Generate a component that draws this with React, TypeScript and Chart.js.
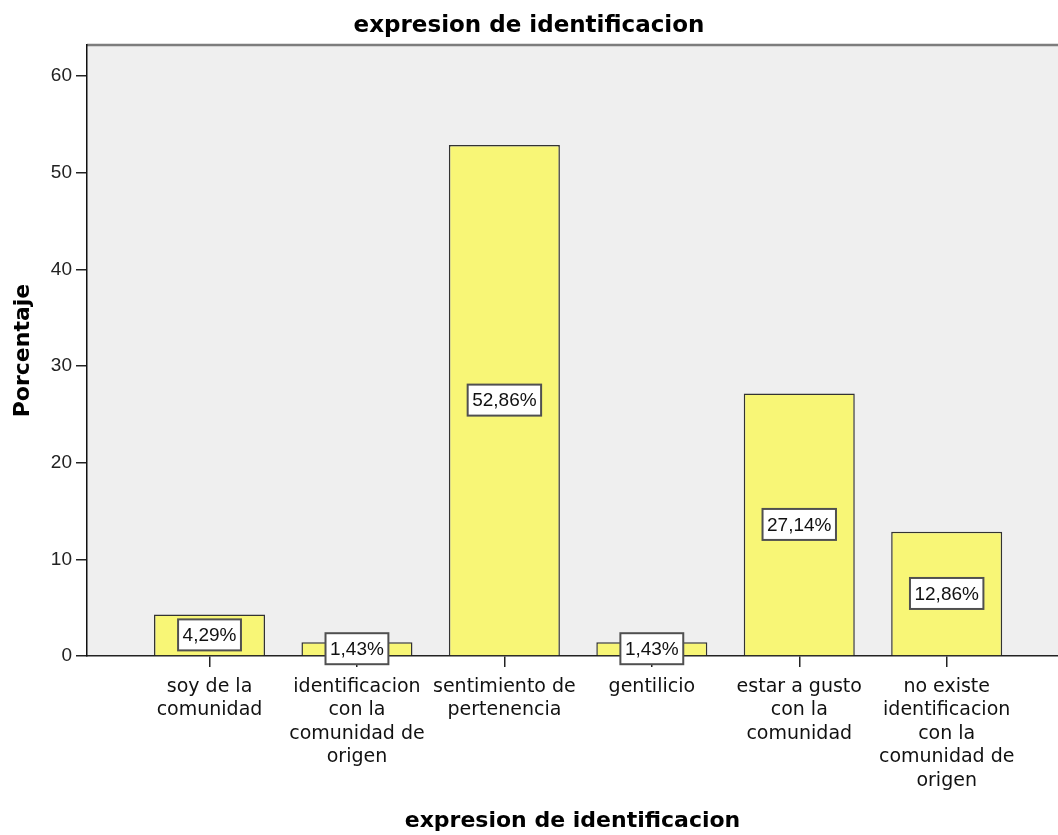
import React, { useEffect, useRef } from 'react';
import { Chart, registerables } from 'chart.js';

Chart.register(...registerables);

const chartTitle = 'expresion de identificacion';
const xAxisTitle = 'expresion de identificacion';
const yAxisTitle = 'Porcentaje';

const categories: string[][] = [
  ['soy de la', 'comunidad'],
  ['identificacion', 'con la', 'comunidad de', 'origen'],
  ['sentimiento de', 'pertenencia'],
  ['gentilicio'],
  ['estar a gusto', 'con la', 'comunidad'],
  ['no existe', 'identificacion', 'con la', 'comunidad de', 'origen'],
];
const percentages = [4.29, 1.43, 52.86, 1.43, 27.14, 12.86];
const yTickValues = [0, 10, 20, 30, 40, 50, 60];

const W = 1058;
const H = 835;

const plotBackground = {
  id: 'plotBackground',
  beforeDraw(chart: any) {
    const { ctx, chartArea } = chart;
    ctx.save();
    ctx.fillStyle = '#efefef';
    ctx.fillRect(chartArea.left, chartArea.top, chartArea.right - chartArea.left, chartArea.bottom - chartArea.top);
    ctx.strokeStyle = '#7d7d7d';
    ctx.lineWidth = 2.5;
    ctx.beginPath();
    ctx.moveTo(chartArea.left, chartArea.top);
    ctx.lineTo(chartArea.right, chartArea.top);
    ctx.stroke();
    ctx.restore();
  },
};

const valueLabels = {
  id: 'valueLabels',
  afterDatasetsDraw(chart: any) {
    const meta = chart.getDatasetMeta(0);
    const ctx = chart.ctx;
    ctx.save();
    ctx.font = '19px "Liberation Sans", Arial, sans-serif';
    ctx.textAlign = 'center';
    ctx.textBaseline = 'middle';
    meta.data.forEach((bar: any, i: number) => {
      const { x, y, base } = bar.getProps(['x', 'y', 'base'], true);
      const cy = (y + base) / 2;
      const text = percentages[i].toFixed(2).replace('.', ',') + '%';
      const w = ctx.measureText(text).width + 9;
      const h = 31;
      ctx.fillStyle = '#ffffff';
      ctx.fillRect(x - w / 2, cy - h / 2, w, h);
      ctx.strokeStyle = '#505050';
      ctx.lineWidth = 2;
      ctx.strokeRect(x - w / 2, cy - h / 2, w, h);
      ctx.fillStyle = '#111';
      ctx.fillText(text, x, cy + 1);
    });
    ctx.restore();
  },
};

export default function App() {
  const ref = useRef<HTMLCanvasElement | null>(null);

  useEffect(() => {
    if (!ref.current) return;
    const chart = new Chart(ref.current, {
      type: 'bar',
      data: {
        datasets: [
          {
            data: percentages.map((v, i) => ({ x: i, y: v })),
            backgroundColor: '#f8f676',
            borderColor: '#333333',
            borderWidth: 1.5,
            barPercentage: 0.753,
            categoryPercentage: 1,
          },
        ],
      },
      options: {
        responsive: false,
        animation: false,
        layout: { padding: 0 },
        plugins: {
          legend: { display: false },
          tooltip: { enabled: false },
          title: {
            display: true,
            text: chartTitle,
            color: '#000',
            font: { family: 'DejaVu Sans', size: 23, weight: 'bold', lineHeight: 1.2 },
            padding: { top: 12, bottom: 5.4 },
          },
        },
        scales: {
          x: {
            type: 'linear',
            min: -0.831,
            max: 5.755,
            bounds: 'data',
            offset: false,
            afterBuildTicks: (s: any) => {
              s.ticks = categories.map((_, i) => ({ value: i }));
            },
            afterFit: (s: any) => {
              s.height = 179;
            },
            ticks: {
              callback: (v: any) => categories[v] ?? '',
              font: { family: 'DejaVu Sans', size: 19, lineHeight: 1.237 },
              color: '#111',
              padding: 8,
              maxRotation: 0,
              minRotation: 0,
              autoSkip: false,
            },
            grid: {
              display: true,
              offset: false,
              drawOnChartArea: false,
              drawTicks: true,
              tickLength: 11,
              color: '#222',
              lineWidth: 1.5,
            },
            border: { display: true, color: '#222', width: 1.5 },
            title: {
              display: true,
              text: xAxisTitle,
              color: '#000',
              font: { family: 'DejaVu Sans', size: 22, weight: 'bold', lineHeight: 1.2 },
              padding: { top: 0, bottom: 1 },
            },
          },
          y: {
            min: 0,
            max: 63.2,
            bounds: 'data',
            afterBuildTicks: (s: any) => {
              s.ticks = yTickValues.map((v) => ({ value: v }));
            },
            afterFit: (s: any) => {
              s.width = 87;
            },
            ticks: {
              font: { family: 'Liberation Sans', size: 19 },
              color: '#222',
              padding: 4,
            },
            grid: {
              display: true,
              drawOnChartArea: false,
              drawTicks: true,
              tickLength: 11,
              color: '#222',
              lineWidth: 1.5,
            },
            border: { display: true, color: '#111', width: 1.5 },
            title: {
              display: true,
              text: yAxisTitle,
              color: '#000',
              font: { family: 'DejaVu Sans', size: 22, weight: 'bold', lineHeight: 1.2 },
              padding: { top: 10, bottom: 0 },
            },
          },
        },
      },
      plugins: [plotBackground, valueLabels],
    } as any);
    return () => chart.destroy();
  }, []);

  return (
    <div style={{ position: 'fixed', left: 0, top: 0, width: W, height: H, background: '#fff' }}>
      <canvas ref={ref} width={W} height={H} style={{ display: 'block' }} />
    </div>
  );
}
